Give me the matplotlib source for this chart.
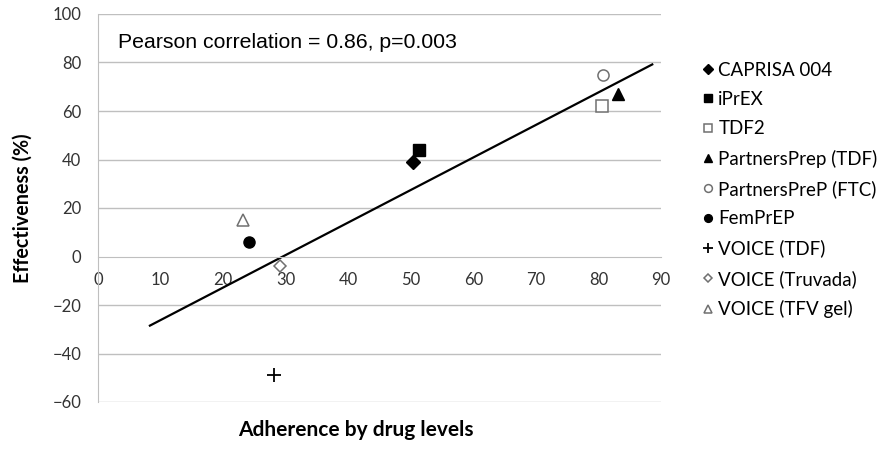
import matplotlib
matplotlib.use("Agg")
import matplotlib.pyplot as plt

# studies: adherence by drug levels (%) vs effectiveness (%)
studies = ["CAPRISA 004", "iPrEX", "TDF2", "PartnersPrep (TDF)", "PartnersPreP (FTC)",
           "FemPrEP", "VOICE (TDF)", "VOICE (Truvada)", "VOICE (TFV gel)"]
adherence = [50.4, 51.3, 80.6, 83.2, 80.7, 24.1, 28.1, 29.1, 23.1]
effectiveness = [39, 44, 62, 67, 75, 6, -49, -4, 15]
markers = ["D", "s", "s", "^", "o", "o", "+", "D", "^"]
filled = [True, True, False, True, False, True, True, False, False]

# trend line end points
trend_x = [8.3, 88.6]
trend_y = [-28.5, 79.2]

xticks = list(range(0, 100, 10))
yticks = list(range(-60, 120, 20))

fig = plt.figure(figsize=(8.92, 4.66), dpi=100)
ax = fig.add_axes([98/892, 1-402/466, (661-98)/892, (402-14)/466])

ax.set_xlim(0, 90)
ax.set_ylim(-60, 100)

for y in yticks:
    if y != 0:
        ax.axhline(y, color="#bfbfbf", lw=1, zorder=0)

ax.plot(trend_x, trend_y, color="black", lw=1.6, zorder=2)

for i in range(len(studies)):
    if markers[i] == "+":
        ax.plot(adherence[i], effectiveness[i], marker="+", ms=10, mew=1.3,
                color="black", ls="none", label=studies[i], zorder=3)
    elif filled[i]:
        ms = 7 if markers[i] == "D" else 8
        ax.plot(adherence[i], effectiveness[i], marker=markers[i], ms=ms,
                color="black", ls="none", label=studies[i], zorder=3)
    else:
        ms = 6 if markers[i] == "D" else 8
        ax.plot(adherence[i], effectiveness[i], marker=markers[i], ms=ms,
                mfc="white", mec="#707070", mew=1.1, ls="none",
                label=studies[i], zorder=3)

for s in ["top", "right"]:
    ax.spines[s].set_visible(False)
ax.spines["left"].set_color("#bfbfbf")
ax.spines["bottom"].set_position(("data", 0))
ax.spines["bottom"].set_color("#bfbfbf")
ax.spines["bottom"].set_bounds(0, 90)

ax.set_xticks(xticks)
ax.set_yticks(yticks)
ax.tick_params(axis="both", length=0, labelsize=12, labelcolor="#333333")
ax.tick_params(axis="x", pad=11)
ax.tick_params(axis="y", pad=12)
for lab in ax.get_xticklabels() + ax.get_yticklabels():
    lab.set_family("Lato")

ax.set_ylabel("Effectiveness (%)", family="Lato", fontsize=14.2, fontweight="bold", labelpad=14)
fig.text(356/892, 1-430/466, "Adherence by drug levels", family="Lato",
         fontsize=15, fontweight="bold", ha="center", va="center")

fig.text(118/892, 1-43/466, "Pearson correlation = 0.86, p=0.003", fontsize=15.3,
         family="Liberation Sans", va="center", ha="left")

fig.legend(loc="upper left", bbox_to_anchor=(693/892, 1-54/466), frameon=False,
           prop={"family": "Lato", "size": 13.5}, handletextpad=0.15, markerscale=0.7,
           handlelength=0.8, labelspacing=0.66, borderaxespad=0)

plt.savefig("out.png", dpi=100)
